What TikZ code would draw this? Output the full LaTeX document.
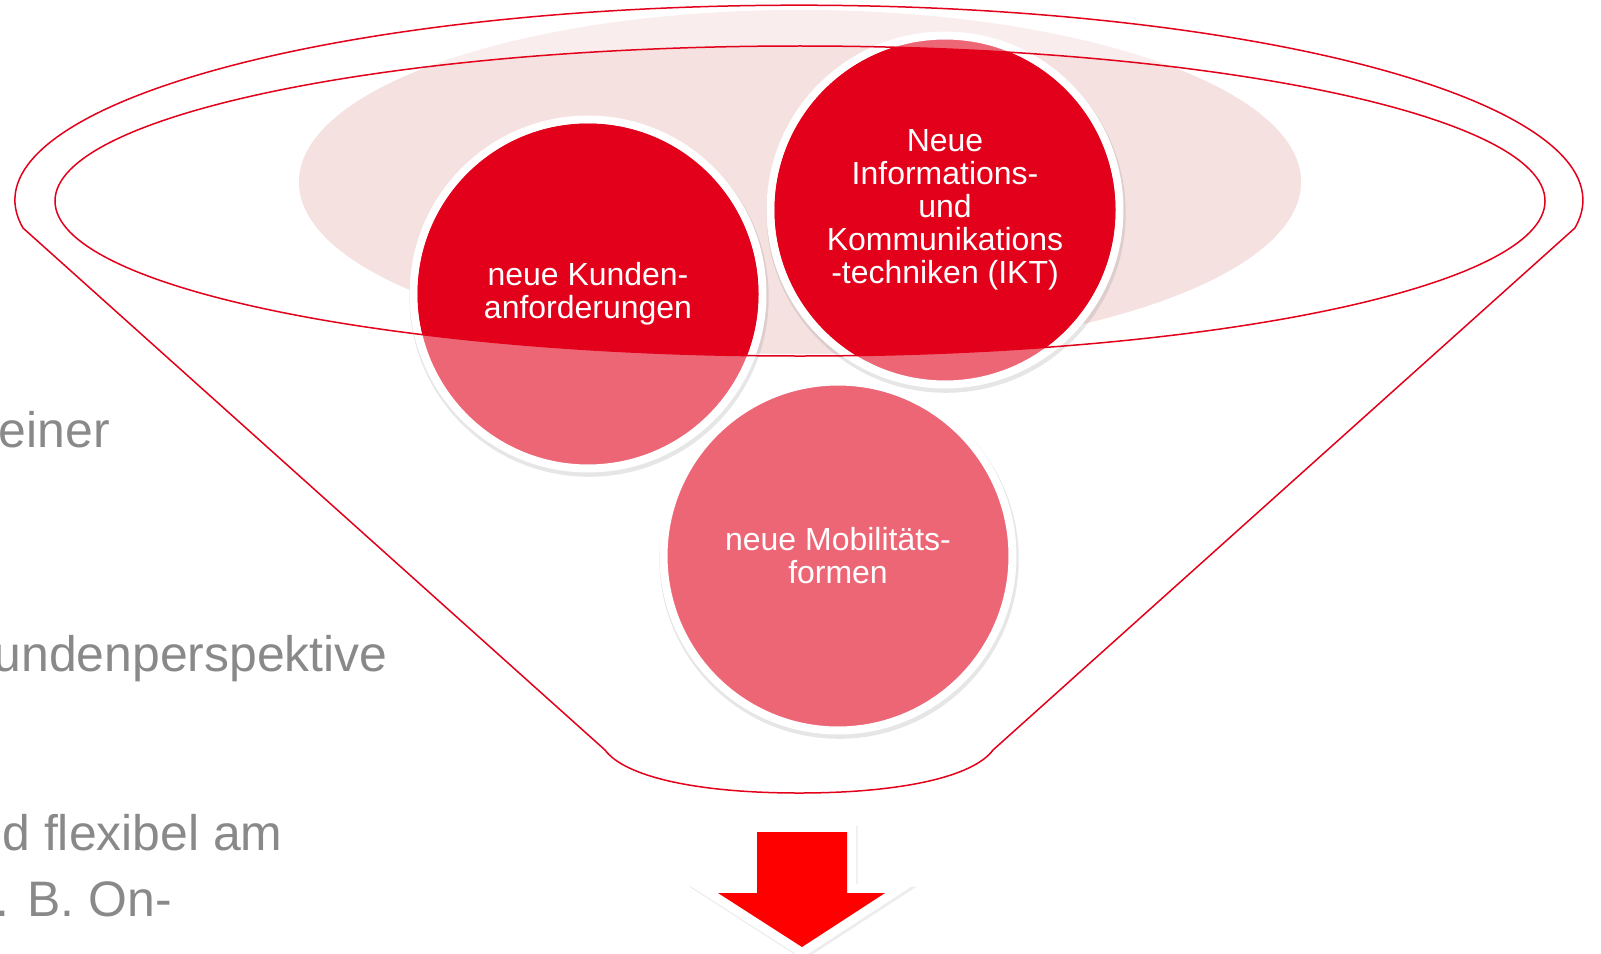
\documentclass[tikz,border=0pt]{standalone}
\usepackage{fontspec}
\setmainfont{Liberation Sans}
\usetikzlibrary{shadows}

\definecolor{kreisdunkel}{HTML}{E2001A}
\definecolor{kreishell}{HTML}{ED6676}
\definecolor{ovalinnen}{HTML}{F6E1E1}
\definecolor{ovalaussen}{HTML}{F9EDED}
\definecolor{trichterrot}{HTML}{E2001A}
\definecolor{pfeilrot}{HTML}{FF0000}
\definecolor{textgrau}{HTML}{898989}

\tikzset{
	trichter/.style={draw=trichterrot, line width=0.03cm},
	kreis/.style={circle, minimum size=6.98cm, inner sep=0pt, fill=kreishell, draw=white, line width=0.16cm,
		drop shadow={opacity=0.2, shadow scale=1.03, shadow xshift=0.02cm, shadow yshift=-0.06cm}},
	kreistext/.style={text=white, align=center, inner sep=0pt, font=\fontsize{18.2}{18.8}\selectfont},
	seitentext/.style={text=textgrau, anchor=base east, inner sep=0pt, font=\fontsize{28.4}{34}\selectfont},
	pfeilrand/.style={draw=white, line width=0.36cm, line join=miter},
	pfeilschatten/.style={draw=black, opacity=0.07, line width=0.36cm, line join=miter, xshift=0.03cm, yshift=-0.05cm}
}

\begin{document}
\begin{tikzpicture}[x=0.02cm, y=-0.02cm]
		\useasboundingbox (0,0) rectangle (1601,953);

		% Hintergrundoval
		\fill[ovalaussen] (800,182) ellipse (501 and 172);
		\begin{scope}
			\clip (800,201) ellipse (745 and 155);
			\fill[ovalinnen] (800,182) ellipse (501 and 172);
		\end{scope}

		% Kreise
		\node[kreis] (k1) at (588,294) {};
		\node[kreis] (k2) at (945,210) {};
		\node[kreis] (k3) at (838,556) {};

		% dunkler Teil innerhalb der Trichteroeffnung
		\begin{scope}
			\clip (800,201) ellipse (745 and 155);
			\foreach \k in {k1,k2,k3}
				\fill[kreisdunkel] (\k) circle (170.5);
		\end{scope}

		% Trichter
		\draw[trichter] (800,201) ellipse (745 and 155);
		\draw[trichter] (23,228) arc[start angle=171.8, end angle=368.2, x radius=784, y radius=195]
			-- (993,750) .. controls (973,777) and (900,793) .. (799,793)
			.. controls (698,793) and (625,777) .. (605,750) -- cycle;

		% Beschriftung der Kreise
		\node[kreistext] (t1) at (k1) {neue Kunden-\\anforderungen};
		\node[kreistext] (t2) at (k2) {Neue\\Informations-\\und\\Kommunikations\\-techniken (IKT)};
		\node[kreistext] (t3) at (k3) {neue Mobilitäts-\\formen};

		% Pfeil
		\draw[pfeilschatten] (757,832) -- (847,832) -- (847,893) -- (885,893) -- (802,947) -- (718,893) -- (757,893) -- cycle;
		\draw[pfeilrand, postaction={fill=pfeilrot}] (757,832) -- (847,832) -- (847,893) -- (885,893) -- (802,947) -- (718,893) -- (757,893) -- cycle;

		% Text links
		\node[seitentext] (z1) at (110,447) {einer};
		\node[seitentext] (z2) at (388,671) {undenperspektive};
		\node[seitentext] (z3) at (283,850) {d flexibel am};
		\node[seitentext] (z4) at (172,916) {. B. On-};
\end{tikzpicture}
\end{document}
